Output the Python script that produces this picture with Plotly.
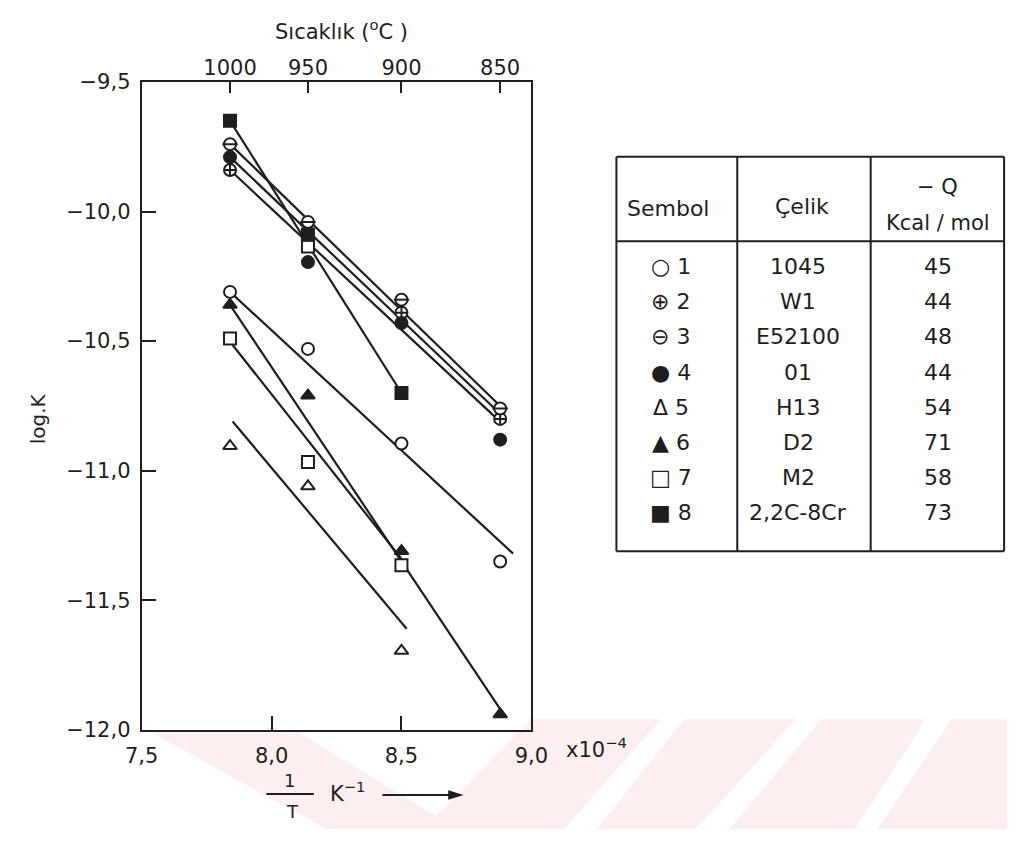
import plotly.graph_objects as go

# ---------------- data ----------------
# 1/T positions (x 1e-4 K^-1) of the four temperature columns
temp_labels = ["1000", "950", "900", "850"]
temp_x = [7.84, 8.14, 8.50, 8.88]

series_names = ["1", "2", "3", "4", "5", "6", "7", "8"]
steels = ["1045", "W1", "E52100", "01", "H13", "D2", "M2", "2,2C-8Cr"]
q_vals = ["45", "44", "48", "44", "54", "71", "58", "73"]
table_symbols = ["○", "⊕", "⊖", "●", "Δ", "▲", "□", "■"]

# measured points (log K) per series
s1_x = [7.84, 8.14, 8.50, 8.88]; s1_y = [-10.31, -10.53, -10.895, -11.35]
s2_x = [7.84, 8.14, 8.50, 8.88]; s2_y = [-9.84, -10.08, -10.39, -10.80]
s3_x = [7.84, 8.14, 8.50, 8.88]; s3_y = [-9.74, -10.04, -10.34, -10.76]
s4_x = [7.84, 8.14, 8.50, 8.88]; s4_y = [-9.79, -10.195, -10.43, -10.88]
s5_x = [7.84, 8.14, 8.50];       s5_y = [-10.905, -11.06, -11.695]
s6_x = [7.84, 8.14, 8.50, 8.88]; s6_y = [-10.36, -10.71, -11.31, -11.94]
s7_x = [7.84, 8.14, 8.14, 8.50]; s7_y = [-10.49, -10.135, -10.966, -11.365]
s8_x = [7.84, 8.14, 8.50];       s8_y = [-9.65, -10.09, -10.70]

# drawn straight lines (start / end)
fit_x0 = [7.84, 7.84, 7.84, 7.84, 7.85, 7.84, 7.85, 7.84]
fit_y0 = [-10.31, -9.84, -9.74, -9.79, -10.81, -10.36, -10.515, -9.65]
fit_x1 = [8.93, 8.89, 8.89, 8.89, 8.52, 8.90, 8.50, 8.50]
fit_y1 = [-11.32, -10.82, -10.76, -10.79, -11.61, -11.95, -11.34, -10.70]

y_ticks = [-9.5, -10.0, -10.5, -11.0, -11.5, -12.0]
y_tick_text = ["−9,5", "−10,0", "−10,5", "−11,0", "−11,5", "−12,0"]
x_ticks = [7.5, 8.0, 8.5, 9.0]
x_tick_text = ["7,5", "8,0", "8,5", "9,0"]

# ---------------- figure ----------------
W, H = 1024, 841
INK = "#1e1e1e"
FONT = "DejaVu Sans"


def px(x):
    return x / W


def py(y):
    return 1 - y / H


fig = go.Figure()

for i in range(len(series_names)):
    fig.add_trace(go.Scatter(
        x=[fit_x0[i], fit_x1[i]], y=[fit_y0[i], fit_y1[i]],
        mode="lines", line=dict(color=INK, width=2.2),
        showlegend=False, hoverinfo="skip"))

marker_specs = [
    (s1_x, s1_y, "circle", "white"),
    (s2_x, s2_y, "circle-cross", "white"),
    (s3_x, s3_y, "circle", "white"),
    (s4_x, s4_y, "circle", INK),
    (s5_x, s5_y, "triangle-up", "white"),
    (s6_x, s6_y, "triangle-up", INK),
    (s7_x, s7_y, "square", "white"),
    (s8_x, s8_y, "square", INK),
]
for k, (xs, ys, sym, fill) in enumerate(marker_specs):
    fig.add_trace(go.Scatter(
        x=xs, y=ys, mode="markers", name=series_names[k],
        marker=dict(symbol=sym, size=12, color=fill,
                    line=dict(color=INK, width=2)),
        showlegend=False, cliponaxis=False))
    if k == 2:  # bar through the circle for symbol 3
        fig.add_trace(go.Scatter(
            x=xs, y=ys, mode="markers",
            marker=dict(symbol="line-ew", size=11,
                        line=dict(color=INK, width=2)),
            showlegend=False, hoverinfo="skip"))

# invisible trace on the top axis so that it is drawn
fig.add_trace(go.Scatter(x=[temp_x[0]], y=[-9.5], xaxis="x2", mode="markers",
                         marker=dict(opacity=0), showlegend=False, hoverinfo="skip"))

axis_common = dict(showgrid=False, zeroline=False, linecolor=INK, linewidth=2,
                   ticks="inside", tickcolor=INK, tickwidth=2,
                   tickfont=dict(family=FONT, size=21, color=INK))

fig.update_layout(
    width=W, height=H,
    margin=dict(l=0, r=0, t=0, b=0),
    paper_bgcolor="white", plot_bgcolor="rgba(0,0,0,0)",
    xaxis=dict(domain=[px(129), px(532)], range=[7.5, 9.0],
               tickvals=x_ticks, ticktext=x_tick_text, ticklen=14,
               mirror=True, showline=True, ticklabelstandoff=6, **axis_common),
    xaxis2=dict(overlaying="x", side="top", range=[7.5, 9.0],
                tickvals=temp_x, ticktext=temp_labels, ticklen=11,
                showline=False, anchor="y", ticklabelstandoff=2, **axis_common),
    yaxis=dict(domain=[py(739), py(72)], range=[-12.0, -9.5],
               tickvals=y_ticks, ticktext=y_tick_text, ticklen=14,
               mirror=True, showline=True, ticklabelstandoff=5, **axis_common),
    showlegend=False,
)

ann = []
shapes = []


def text(x, y, t, size=20, **kw):
    ann.append(dict(x=px(x), y=py(y), xref="paper", yref="paper", text=t,
                    showarrow=False, font=dict(family=FONT, size=size, color=INK),
                    xanchor=kw.pop("xanchor", "center"),
                    yanchor=kw.pop("yanchor", "middle"), **kw))


def hline(x0, x1, y, w=2):
    shapes.append(dict(type="line", xref="paper", yref="paper",
                       x0=px(x0), x1=px(x1), y0=py(y), y1=py(y),
                       line=dict(color=INK, width=w)))


def vline(x, y0, y1, w=2):
    shapes.append(dict(type="line", xref="paper", yref="paper",
                       x0=px(x), x1=px(x), y0=py(y0), y1=py(y1),
                       line=dict(color=INK, width=w)))


def poly(points, fill, layer="below"):
    path = "M " + " L ".join(f"{px(a)},{py(b)}" for a, b in points) + " Z"
    shapes.append(dict(type="path", xref="paper", yref="paper", path=path,
                       fillcolor=fill, line=dict(width=0), layer=layer))


# watermark (faint pink stripes)
PINK = "#fdeef0"
poly([(140, 742), (292, 742), (455, 841), (320, 841)], PINK)
poly([(532, 728), (666, 728), (566, 841), (420, 841)], PINK)
poly([(690, 728), (806, 728), (702, 841), (600, 841)], PINK)
poly([(832, 728), (940, 728), (867, 841), (737, 841)], PINK)
poly([(967, 728), (1024, 728), (1024, 841), (890, 841)], PINK)

# titles
text(336, 19, "Sıcaklık (<sup>o</sup>C )", size=21)
text(22, 419, "log.K", size=20, textangle=-90)
text(566, 758, "x10<sup>−4</sup>", size=21, xanchor="left")
text(282, 791, "1", size=18)
hline(258, 307, 805, w=2)
text(285, 823, "T", size=18)
text(342, 803, "K<sup>−1</sup>", size=21)
# arrow of the x-axis title
hline(378, 448, 806, w=2)
poly([(446, 801), (462, 806), (446, 811)], INK, layer="above")

# table
TL, TR, TT, TB, TH = 620, 1021, 149, 555, 236
C1, C2 = 745, 883
hline(TL, TR, TT); hline(TL, TR, TB); hline(TL, TR, TH)
vline(TL, TT, TB); vline(TR, TT, TB); vline(C1, TT, TB); vline(C2, TT, TB)
text(673, 202, "Sembol", size=22)
text(812, 200, "Çelik", size=22)
text(952, 180, "− Q", size=21)
text(953, 217, "Kcal / mol", size=21)
for i in range(len(series_names)):
    yy = 262 + i * 36.2
    text(676, yy, f"{table_symbols[i]} {series_names[i]}", size=22)
    text(808, yy, steels[i], size=22)
    text(953, yy, q_vals[i], size=22)

fig.update_layout(annotations=ann, shapes=shapes)
fig.write_html("out.html")
